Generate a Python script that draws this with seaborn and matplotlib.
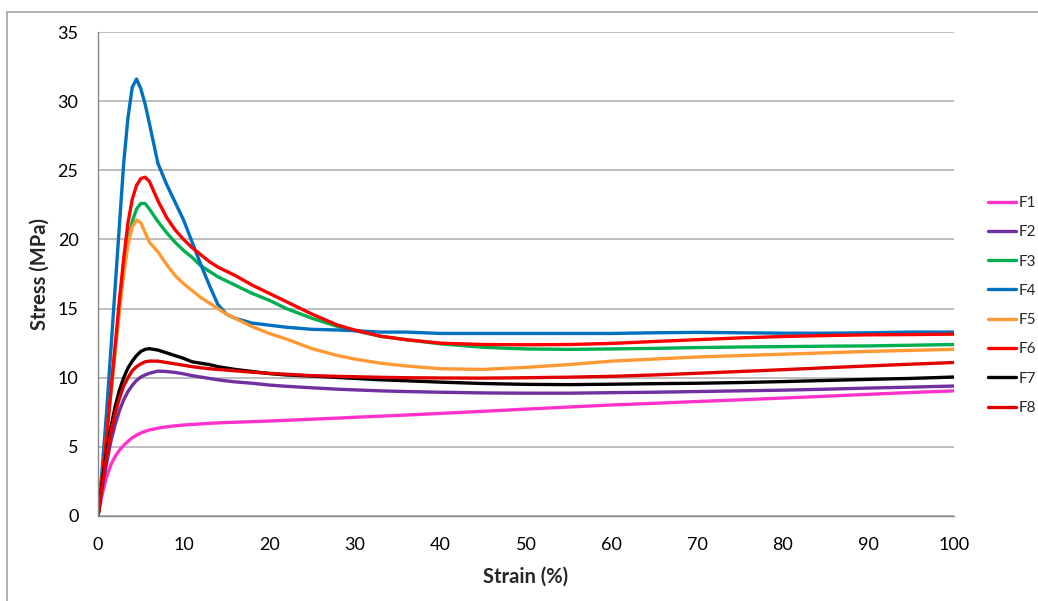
import pandas as pd
import matplotlib
matplotlib.use("Agg")
import matplotlib.pyplot as plt
from matplotlib.lines import Line2D
import seaborn as sns

strain = [0, 0.5, 1, 1.5, 2, 2.5, 3, 3.5, 4, 4.5, 5, 5.5, 6, 7, 8, 9, 10, 11, 12, 13, 14, 15, 16,
          18, 20, 22, 25, 28, 30, 33, 36, 40, 45, 50, 55, 60, 65, 70, 75, 80, 85, 90, 95, 100]

# stress (MPa) for each sample
F1 = [0, 1.6, 2.8, 3.7, 4.3, 4.75, 5.1, 5.4, 5.65, 5.85, 6.0, 6.12, 6.22, 6.35, 6.45, 6.52, 6.58, 6.62, 6.66, 6.7, 6.73, 6.76, 6.78,
      6.82, 6.87, 6.92, 7.0, 7.08, 7.14, 7.22, 7.3, 7.42, 7.57, 7.73, 7.88, 8.03, 8.15, 8.28, 8.4, 8.53, 8.66, 8.8, 8.93, 9.05]
F2 = [0, 2.1, 3.8, 5.4, 6.6, 7.6, 8.4, 9.0, 9.45, 9.8, 10.05, 10.2, 10.32, 10.48, 10.45, 10.38, 10.28, 10.15, 10.05, 9.95, 9.85, 9.77, 9.7,
      9.6, 9.47, 9.38, 9.27, 9.17, 9.12, 9.05, 9.0, 8.95, 8.9, 8.88, 8.88, 8.92, 8.95, 9.0, 9.05, 9.1, 9.17, 9.25, 9.32, 9.4]
F3 = [0, 3.0, 6.0, 9.0, 12.0, 15.0, 17.8, 19.8, 21.3, 22.2, 22.6, 22.6, 22.2, 21.3, 20.5, 19.8, 19.2, 18.7, 18.1, 17.7, 17.3, 17.0, 16.7,
      16.1, 15.6, 15.0, 14.3, 13.7, 13.4, 13.0, 12.75, 12.45, 12.2, 12.08, 12.05, 12.08, 12.12, 12.18, 12.22, 12.25, 12.28, 12.3, 12.35, 12.4]
F4 = [0, 3.5, 7.5, 12.0, 16.5, 21.0, 25.5, 28.8, 31.0, 31.6, 30.9, 29.8, 28.4, 25.5, 24.0, 22.7, 21.4, 19.8, 18.2, 16.7, 15.3, 14.6, 14.3,
      13.95, 13.8, 13.65, 13.5, 13.45, 13.4, 13.3, 13.3, 13.2, 13.2, 13.2, 13.2, 13.2, 13.25, 13.28, 13.25, 13.22, 13.22, 13.25, 13.3, 13.3]
F5 = [0, 2.8, 5.8, 8.8, 11.8, 14.8, 17.5, 19.6, 20.9, 21.4, 21.2, 20.5, 19.8, 19.1, 18.2, 17.4, 16.8, 16.3, 15.8, 15.4, 15.0, 14.6, 14.3,
      13.7, 13.2, 12.8, 12.1, 11.6, 11.35, 11.05, 10.85, 10.65, 10.6, 10.75, 10.95, 11.2, 11.35, 11.5, 11.6, 11.7, 11.8, 11.9, 11.98, 12.05]
F6 = [0, 2.8, 5.8, 9.0, 12.3, 15.6, 18.6, 21.2, 22.9, 23.9, 24.4, 24.5, 24.2, 22.8, 21.6, 20.7, 20.0, 19.4, 18.9, 18.4, 18.0, 17.7, 17.4,
      16.7, 16.1, 15.5, 14.6, 13.8, 13.45, 13.0, 12.75, 12.5, 12.4, 12.38, 12.4, 12.48, 12.62, 12.75, 12.88, 12.98, 13.05, 13.1, 13.12, 13.15]
F7 = [0, 2.5, 4.6, 6.4, 7.9, 9.1, 10.0, 10.7, 11.2, 11.6, 11.9, 12.05, 12.1, 12.0, 11.8, 11.6, 11.4, 11.15, 11.05, 10.95, 10.8, 10.7, 10.6,
      10.45, 10.3, 10.2, 10.12, 10.02, 9.95, 9.85, 9.78, 9.68, 9.58, 9.52, 9.5, 9.53, 9.57, 9.6, 9.65, 9.72, 9.8, 9.88, 9.95, 10.05]
F8 = [0, 2.3, 4.3, 6.0, 7.4, 8.5, 9.4, 10.0, 10.5, 10.8, 11.0, 11.15, 11.2, 11.2, 11.1, 11.0, 10.9, 10.8, 10.72, 10.65, 10.6, 10.55, 10.5,
      10.4, 10.32, 10.25, 10.15, 10.1, 10.07, 10.03, 10.0, 9.98, 9.97, 10.0, 10.04, 10.1, 10.2, 10.32, 10.45, 10.58, 10.72, 10.85, 10.98, 11.1]

samples = ['F1', 'F2', 'F3', 'F4', 'F5', 'F6', 'F7', 'F8']
colors = ['#FF33CC', '#7030A0', '#00B050', '#0070C0', '#FF9933', '#FF0000', '#000000', '#E00000']

series = dict(zip(samples, [F1, F2, F3, F4, F5, F6, F7, F8]))
df = pd.concat([pd.DataFrame({'strain': strain, 'stress': v, 'sample': k}) for k, v in series.items()],
               ignore_index=True)

sns.set_style("white")
plt.rcParams['font.family'] = ['Lato', 'DejaVu Sans']

fig = plt.figure(figsize=(10.38, 6.01), dpi=100)
ax = fig.add_axes([98 / 1038, 1 - 516 / 601, (954 - 98) / 1038, (516 - 32) / 601])

sns.lineplot(data=df, x='strain', y='stress', hue='sample', hue_order=samples,
             palette=dict(zip(samples, colors)), linewidth=2.4, sort=False, ax=ax, legend=False)

ax.set_xlim(0, 100)
ax.set_ylim(0, 35)
ax.set_xticks(range(0, 101, 10))
ax.set_yticks(range(0, 36, 5))
ax.yaxis.grid(True, color='#B3B3B3', linewidth=1.2)
ax.set_axisbelow(True)
for s in ['top', 'right']:
    ax.spines[s].set_visible(False)
for s in ['left', 'bottom']:
    ax.spines[s].set_color('#868686')
    ax.spines[s].set_linewidth(1.0)
ax.tick_params(axis='both', direction='out', length=5, width=1, color='#868686',
               labelsize=13, colors='#868686', labelcolor='black')
ax.tick_params(axis='x', pad=10)
ax.tick_params(axis='y', pad=9)
ax.set_xlabel('Strain (%)', fontsize=14.5, fontweight='bold', labelpad=10)
ax.set_ylabel('Stress (MPa)', fontsize=14.5, fontweight='bold', labelpad=6)

handles = [Line2D([], [], color=c, linewidth=2.4) for c in colors]
fig.legend(handles, samples, loc='upper left', bbox_to_anchor=(988 / 1038, 1 - 196 / 601),
           frameon=False, fontsize=11, handlelength=1.8, handletextpad=0.2, labelspacing=1.0,
           borderpad=0, borderaxespad=0)

# outer chart border (only top and left are visible in the picture)
fig.add_artist(Line2D([7 / 1038, 7 / 1038], [0, 1 - 12 / 601], transform=fig.transFigure,
                      color='#A6A6A6', linewidth=1.2))
fig.add_artist(Line2D([7 / 1038, 1], [1 - 12 / 601, 1 - 12 / 601], transform=fig.transFigure,
                      color='#A6A6A6', linewidth=1.2))

fig.savefig('out.png', dpi=100)
